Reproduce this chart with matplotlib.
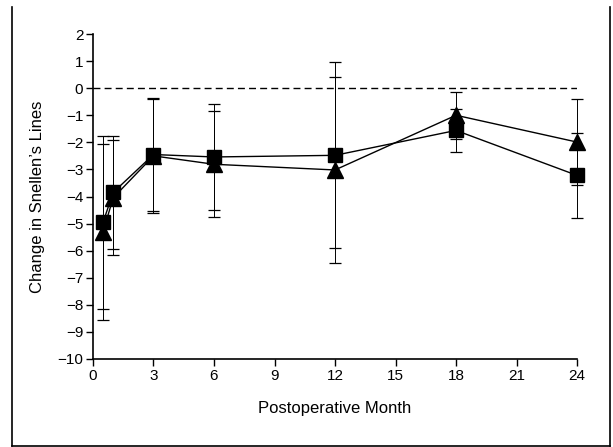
import matplotlib
matplotlib.use("Agg")
from matplotlib import pyplot as plt
from matplotlib.lines import Line2D

plt.rcParams["font.family"] = ["Liberation Sans", "DejaVu Sans"]

# Postoperative months and mean change (+/- error) for both groups
months = [0.5, 1, 3, 6, 12, 18, 24]
square_mean = [-4.95, -3.85, -2.45, -2.54, -2.48, -1.56, -3.22]
square_err = [3.2, 2.1, 2.1, 1.95, 3.43, 0.8, 1.57]
triangle_mean = [-5.3, -4.05, -2.5, -2.81, -3.02, -1.0, -1.99]
triangle_err = [3.25, 2.12, 2.1, 1.96, 3.43, 0.86, 1.58]

x_ticks = [0, 3, 6, 9, 12, 15, 18, 21, 24]
y_ticks = list(range(-10, 3))

fig = plt.figure(figsize=(6.13, 4.47), dpi=100)
ax = fig.add_axes([0.1517, 0.1969, 0.7896, 0.727])

# reference line at zero
ax.plot([0, 24], [0, 0], color="black", lw=1, dashes=(5, 3))

# error bars first, then lines with markers on top
for mean, err in [(square_mean, square_err), (triangle_mean, triangle_err)]:
    bars = ax.errorbar(months, mean, yerr=err, fmt="none", ecolor="black",
                       elinewidth=0.7, capsize=4, capthick=0.9)
    for art in bars.lines[1] + bars.lines[2]:
        art.set_clip_on(False)

ax.plot(months, square_mean, color="black", lw=1, marker="s",
        markersize=10, zorder=3, clip_on=False)
ax.plot(months, triangle_mean, color="black", lw=1, marker="^",
        markersize=12, zorder=3, clip_on=False)

ax.set_xlim(0, 24)
ax.set_ylim(-10, 2)
ax.set_xticks(x_ticks)
ax.set_yticks(y_ticks)
ax.set_yticklabels([str(t).replace("-", "\u2212") for t in y_ticks])
ax.tick_params(direction="out", length=5, width=1, labelsize=11, pad=2)

ax.spines["top"].set_visible(False)
ax.spines["right"].set_visible(False)
ax.spines["left"].set_linewidth(1.2)
ax.spines["bottom"].set_linewidth(1.2)

ax.set_xlabel("Postoperative Month", fontsize=12, labelpad=13)
ax.set_ylabel("Change in Snellen\u2019s Lines", fontsize=12, labelpad=9)

# outer frame around the figure (left, right, bottom)
W, H = 613, 447
frame = [([12, 12], [7, 446]), ([610, 610], [7, 446]), ([12, 610], [446, 446])]
for xs, ys in frame:
    fig.add_artist(Line2D([x / W for x in xs], [1 - y / H for y in ys],
                          color="black", lw=1.2, transform=fig.transFigure))

plt.savefig("out.png", dpi=100)
plt.close()
